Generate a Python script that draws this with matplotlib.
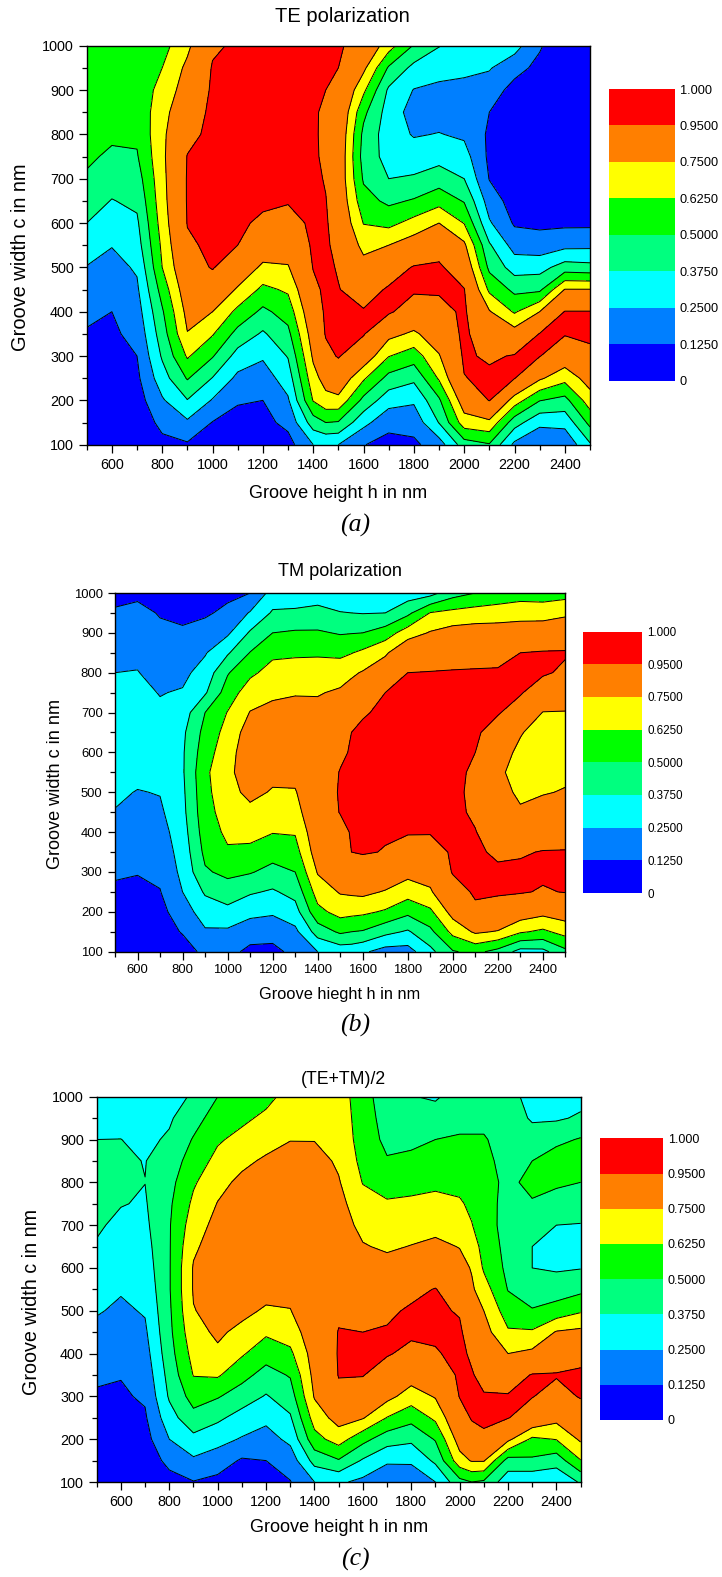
import numpy as np
import matplotlib
matplotlib.use("Agg")
import matplotlib.pyplot as plt

plt.rcParams['font.family'] = ['Liberation Sans', 'DejaVu Sans']

W, H = 722, 1577

te_heights = [500, 600, 700, 800, 900, 1000, 1100, 1200, 1300, 1400, 1450, 1500,
              1600, 1700, 1800, 1900, 2000, 2100, 2200, 2300, 2400, 2500]
tm_heights = [500, 600, 700, 800, 900, 1000, 1100, 1200, 1300, 1400, 1500, 1550,
              1600, 1700, 1800, 1900, 2000, 2100, 2200, 2300, 2400, 2500]
avg_heights = [500, 600, 700, 800, 900, 1000, 1100, 1200, 1300, 1400, 1500,
               1600, 1700, 1800, 1900, 2000, 2050, 2100, 2200, 2300, 2400, 2500]
widths = [100, 150, 200, 250, 300, 350, 400, 450, 500, 550, 600, 650, 700,
          750, 800, 850, 900, 950, 1000]

levels = [0, 0.125, 0.25, 0.375, 0.5, 0.625, 0.75, 0.95, 1.0]
level_labels = ['0', '0.1250', '0.2500', '0.3750', '0.5000', '0.6250', '0.7500', '0.9500', '1.000']
band_colors = ['#0000FF', '#007FFF', '#00FFFF', '#00FF7F', '#00FF00', '#FFFF00', '#FF7F00', '#FF0000']

# one row per groove height, one value per groove width
te_values = [
 [.02,.03,.05,.07,.09,.115,.15,.2,.245,.31,.375,.43,.485,.52,.54,.55,.56,.57,.58],
 [.02,.03,.04,.06,.08,.105,.125,.165,.21,.255,.315,.37,.425,.48,.52,.55,.57,.58,.6],
 [.02,.04,.07,.1,.125,.16,.195,.23,.265,.32,.355,.4,.445,.49,.52,.54,.56,.58,.6],
 [.09,.16,.235,.32,.39,.44,.485,.55,.625,.65,.68,.7,.71,.72,.72,.7,.66,.625,.58],
 [.11,.23,.37,.51,.64,.745,.79,.84,.886,.93,.955,.96,.96,.955,.91,.87,.82,.78,.72],
 [.06,.12,.24,.37,.51,.635,.75,.86,.96,.975,.98,.985,.99,.99,.985,.98,.97,.96,.93],
 [.05,.09,.135,.22,.327,.458,.593,.735,.845,.95,.97,.98,.985,.99,.99,.985,.98,.975,.97],
 [.05,.09,.125,.19,.265,.358,.472,.595,.726,.83,.93,.97,.98,.985,.99,.99,.985,.98,.975],
 [.08,.157,.235,.309,.383,.467,.553,.644,.74,.82,.9,.96,.975,.98,.985,.985,.98,.975,.97],
 [.25,.4375,.632,.706,.77,.819,.869,.918,.955,.97,.975,.98,.98,.975,.97,.965,.96,.965,.97],
 [.26,.5,.71,.8,.91,.96,.97,.975,.975,.97,.965,.955,.94,.92,.92,.93,.95,.97,.98],
 [.25,.49,.715,.855,.96,.97,.97,.955,.94,.91,.88,.86,.85,.86,.87,.89,.92,.95,.97],
 [.13,.287,.465,.643,.845,.96,.96,.894,.8,.71,.62,.546,.485,.45,.47,.53,.65,.78,.88],
 [.08,.165,.3,.46,.63,.79,.97,.965,.88,.75,.59,.474,.375,.33,.31,.32,.355,.485,.68],
 [.1,.173,.268,.402,.56,.727,.873,.97,.96,.82,.668,.512,.39,.31,.24,.2,.245,.34,.49],
 [.19,.38,.48,.64,.74,.83,.91,.965,.97,.89,.75,.58,.44,.33,.255,.2,.22,.3,.38],
 [.44,.69,.83,.945,.97,.98,.97,.955,.87,.775,.62,.49,.375,.3,.23,.19,.225,.27,.3],
 [.49,.72,.955,.98,.93,.84,.76,.6,.47,.39,.265,.19,.12,.1,.105,.125,.19,.26,.3],
 [.22,.43,.69,.955,.96,.81,.61,.47,.32,.2,.11,.07,.05,.04,.04,.05,.08,.17,.3],
 [.14,.28,.505,.77,.955,.955,.75,.475,.33,.18,.1,.06,.04,.03,.03,.03,.05,.09,.14],
 [.15,.29,.46,.665,.84,.96,.955,.755,.43,.215,.1,.07,.05,.04,.03,.02,.02,.02,.02],
 [.36,.535,.69,.81,.925,.97,.955,.755,.415,.22,.1,.07,.05,.04,.03,.02,.02,.02,.02],
]

tm_values = [
 [.03,.05,.07,.105,.14,.18,.21,.245,.27,.29,.3,.3,.295,.275,.25,.215,.175,.135,.1],
 [.03,.05,.07,.1,.13,.16,.19,.215,.245,.28,.3,.31,.305,.28,.255,.22,.18,.145,.11],
 [.03,.06,.09,.12,.15,.175,.2,.23,.255,.28,.3,.295,.27,.245,.2,.17,.14,.12,.09],
 [.06,.135,.19,.25,.28,.3,.32,.34,.35,.36,.36,.35,.31,.26,.22,.18,.14,.1,.08],
 [.16,.235,.31,.39,.485,.53,.56,.58,.59,.6,.57,.54,.5,.36,.3,.24,.17,.11,.07],
 [.17,.23,.34,.44,.53,.61,.65,.68,.71,.72,.7,.67,.63,.56,.49,.36,.23,.15,.1],
 [.09,.19,.28,.39,.51,.59,.67,.72,.78,.82,.83,.81,.755,.69,.6,.505,.39,.26,.125],
 [.1,.16,.27,.36,.46,.55,.63,.69,.74,.78,.81,.82,.78,.73,.67,.6,.5,.39,.3],
 [.15,.22,.325,.415,.5,.575,.635,.7,.74,.79,.83,.85,.8,.74,.67,.61,.515,.4,.29],
 [.25,.43,.59,.68,.76,.82,.85,.87,.88,.875,.86,.83,.79,.74,.68,.61,.515,.41,.32],
 [.3,.52,.67,.76,.81,.86,.91,.955,.96,.955,.93,.89,.83,.77,.69,.6,.49,.38,.3],
 [.3,.5,.66,.77,.87,.95,.96,.97,.975,.97,.96,.95,.87,.8,.73,.62,.495,.375,.3],
 [.27,.49,.65,.78,.88,.96,.97,.975,.98,.975,.965,.96,.945,.85,.76,.65,.5,.37,.31],
 [.2,.41,.61,.74,.85,.945,.96,.97,.98,.98,.975,.97,.96,.95,.84,.73,.56,.375,.33],
 [.2,.36,.53,.68,.79,.89,.96,.97,.98,.98,.98,.975,.97,.96,.95,.87,.69,.47,.31],
 [.34,.47,.6,.735,.8,.88,.96,.975,.98,.98,.98,.975,.97,.965,.955,.88,.76,.63,.33],
 [.49,.66,.8,.885,.96,.97,.975,.98,.98,.98,.98,.98,.975,.97,.96,.89,.8,.66,.45],
 [.53,.77,.92,.97,.98,.97,.955,.93,.92,.93,.95,.97,.98,.975,.96,.91,.81,.68,.5],
 [.46,.74,.91,.96,.97,.93,.87,.82,.78,.77,.81,.89,.96,.97,.96,.92,.81,.69,.54],
 [.33,.64,.83,.96,.97,.94,.84,.76,.735,.71,.72,.76,.89,.96,.97,.95,.82,.7,.57],
 [.34,.6,.79,.94,.97,.955,.89,.81,.74,.69,.67,.69,.745,.88,.965,.96,.84,.69,.57],
 [.47,.67,.82,.955,.97,.955,.91,.85,.76,.72,.69,.71,.745,.81,.93,.96,.87,.72,.58],
]

avg_values = [
 [.02,.05,.07,.09,.11,.145,.18,.22,.26,.295,.33,.365,.39,.41,.42,.4,.375,.34,.31],
 [.02,.05,.07,.09,.11,.13,.16,.2,.23,.26,.295,.32,.35,.38,.395,.39,.376,.34,.31],
 [.02,.05,.08,.11,.14,.17,.2,.23,.26,.285,.31,.33,.35,.365,.376,.372,.35,.33,.3],
 [.08,.16,.25,.325,.39,.42,.45,.47,.48,.49,.49,.49,.49,.48,.46,.43,.39,.36,.33],
 [.12,.23,.34,.46,.55,.63,.67,.71,.745,.76,.76,.73,.69,.65,.61,.56,.51,.45,.39],
 [.09,.19,.29,.4,.51,.64,.73,.77,.79,.81,.82,.81,.79,.755,.71,.66,.61,.56,.5],
 [.06,.11,.24,.325,.44,.54,.64,.72,.78,.82,.84,.86,.85,.83,.78,.72,.66,.6,.56],
 [.06,.125,.2,.28,.365,.455,.55,.645,.735,.79,.84,.87,.88,.87,.83,.77,.7,.65,.59],
 [.12,.18,.28,.36,.44,.51,.6,.68,.745,.79,.83,.87,.89,.89,.87,.81,.745,.7,.67],
 [.25,.42,.58,.68,.76,.79,.81,.84,.86,.88,.89,.9,.9,.88,.84,.8,.745,.72,.7],
 [.27,.49,.68,.8,.92,.955,.96,.955,.93,.89,.87,.85,.82,.79,.76,.73,.71,.7,.69],
 [.22,.36,.54,.76,.89,.955,.96,.95,.88,.84,.81,.76,.71,.67,.62,.59,.57,.56,.55],
 [.15,.27,.43,.62,.79,.89,.96,.96,.93,.88,.8,.73,.68,.64,.57,.51,.47,.45,.43],
 [.16,.27,.4,.54,.69,.81,.92,.97,.965,.92,.83,.755,.69,.645,.59,.53,.47,.42,.38],
 [.25,.4,.51,.65,.76,.86,.94,.97,.97,.955,.87,.78,.71,.66,.6,.55,.5,.43,.36],
 [.46,.7,.81,.89,.955,.97,.98,.97,.94,.87,.8,.745,.69,.64,.59,.55,.51,.47,.43],
 [.5,.76,.89,.96,.97,.96,.93,.88,.83,.77,.74,.69,.63,.6,.57,.54,.51,.47,.43],
 [.48,.76,.93,.97,.96,.91,.85,.8,.75,.68,.61,.58,.56,.55,.54,.53,.51,.47,.43],
 [.3,.45,.78,.955,.96,.88,.75,.64,.56,.495,.47,.46,.45,.46,.475,.46,.45,.44,.42],
 [.27,.48,.6,.88,.955,.958,.78,.64,.51,.43,.375,.375,.43,.49,.53,.5,.43,.36,.33],
 [.27,.43,.63,.79,.9,.96,.86,.76,.55,.44,.36,.31,.375,.45,.52,.56,.47,.36,.32],
 [.39,.62,.77,.87,.96,.97,.91,.78,.61,.47,.37,.33,.37,.43,.5,.57,.51,.39,.34],
]

panel_titles = ['TE polarization', 'TM polarization', '(TE+TM)/2']
x_labels = ['Groove height h in nm', 'Groove hieght h in nm', 'Groove height h in nm']
y_label = 'Groove width c in nm'
captions = ['(a)', '(b)', '(c)']
x_ticks = [600, 800, 1000, 1200, 1400, 1600, 1800, 2000, 2200, 2400]
y_ticks = [100, 200, 300, 400, 500, 600, 700, 800, 900, 1000]

# pixel boxes: left, right, top, bottom
axes_boxes = [(86.7, 590, 45.7, 444.7), (115, 565.4, 593, 951.7), (96.7, 580.6, 1096.7, 1482)]
bar_boxes = [(609, 675, 89, 380.5), (583.4, 642.2, 631.5, 893), (600.3, 662.7, 1138.3, 1419.9)]
title_xy = [(342, 16.7), (339.7, 571), (343, 1080)]
xlabel_xy = [(338, 493), (339.5, 994), (339, 1528)]
ylabel_xy = [(21, 257.5), (56, 783.5), (32, 1302)]
caption_xy = [(355, 525), (355, 1025), (355, 1559)]
title_size = [14.5, 13.1, 12.7]
xlabel_size = [13.1, 11.8, 13.1]
ylabel_size = [14.4, 13.1, 14.2]
tick_size = [10.4, 9.4, 10.4]
bar_size = [9.2, 8.4, 9.0]
tick_len = [5.8, 5.4, 5.8]
minor_len = [3.6, 3.3, 3.6]


def rect(box):
    l, r, t, b = box
    return [l / W, 1 - b / H, (r - l) / W, (b - t) / H]


def put(xy, s, **kw):
    fig.text(xy[0] / W, 1 - xy[1] / H, s, ha='center', va='center', **kw)


fig = plt.figure(figsize=(W / 100, H / 100), dpi=100)

panels = [(te_heights, te_values), (tm_heights, tm_values), (avg_heights, avg_values)]
for i, (hs, values) in enumerate(panels):
    X, Y = np.meshgrid(hs, widths)
    Z = np.array(values).T
    ax = fig.add_axes(rect(axes_boxes[i]))
    ax.contourf(X, Y, Z, levels=levels, colors=band_colors)
    ax.contour(X, Y, Z, levels=levels[1:-1], colors='black', linewidths=0.7)
    ax.set_xlim(500, 2500)
    ax.set_ylim(100, 1000)
    ax.set_xticks(x_ticks)
    ax.set_yticks(y_ticks)
    ax.set_xticks(np.arange(500, 2501, 100), minor=True)
    ax.set_yticks(np.arange(100, 1001, 50), minor=True)
    ax.tick_params(which='major', length=tick_len[i], width=0.9, labelsize=tick_size[i], pad=3.5)
    ax.tick_params(which='minor', length=minor_len[i], width=0.9)
    for s in ax.spines.values():
        s.set_linewidth(1.0)
    put(title_xy[i], panel_titles[i], fontsize=title_size[i])
    put(xlabel_xy[i], x_labels[i], fontsize=xlabel_size[i])
    put(ylabel_xy[i], y_label, rotation=90, fontsize=ylabel_size[i])
    put(caption_xy[i], captions[i], fontsize=18.5, family=['Liberation Serif'], style='italic')

    cax = fig.add_axes(rect(bar_boxes[i]))
    positions = np.arange(len(levels))
    cax.pcolormesh([0, 1], positions, np.arange(len(band_colors)).reshape(-1, 1),
                   cmap=matplotlib.colors.ListedColormap(band_colors), shading='flat')
    cax.set_xticks([])
    cax.yaxis.tick_right()
    cax.set_yticks(positions)
    cax.set_yticklabels(level_labels)
    cax.tick_params(length=0, labelsize=bar_size[i], pad=3.6)
    for s in cax.spines.values():
        s.set_visible(False)

fig.savefig('out.png', dpi=100)
